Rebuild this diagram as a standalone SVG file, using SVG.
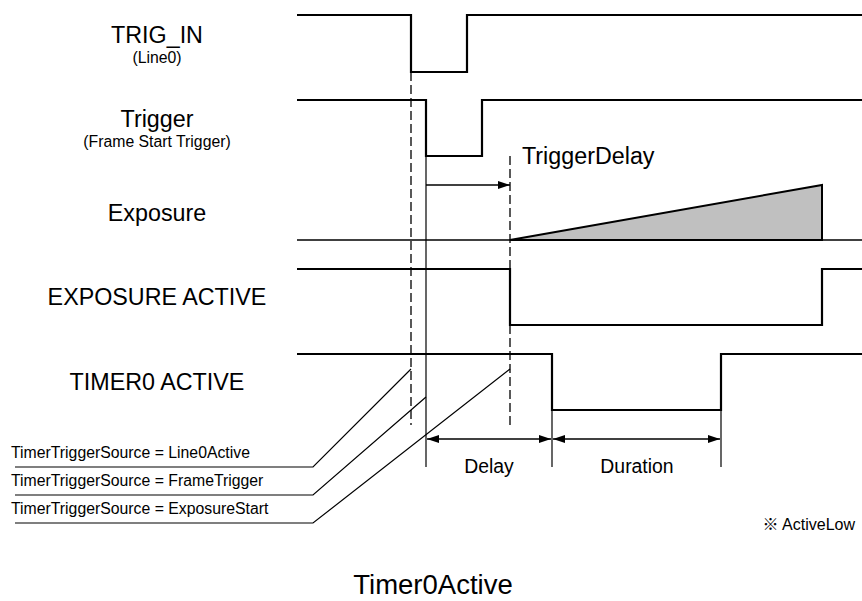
<svg xmlns="http://www.w3.org/2000/svg" width="862" height="601" viewBox="0 0 862 601">
<defs>
<marker id="ah" viewBox="0 0 12 8" refX="12" refY="4" markerWidth="12" markerHeight="8" markerUnits="userSpaceOnUse" orient="auto-start-reverse">
<path d="M0,0 L12,4 L0,8 Z" fill="#000"/>
</marker>
<style>
text{font-family:"Liberation Sans",Arial,"Noto Sans CJK JP",sans-serif;fill:#000}
.big{font-size:23.3px}
.sm{font-size:15.8px}
.sig{fill:none;stroke:#000;stroke-width:2.2}
.thin{fill:none;stroke:#000;stroke-width:1.2}
.dash{fill:none;stroke:#000;stroke-width:1.3;stroke-dasharray:9 4}
.arr{fill:none;stroke:#000;stroke-width:1.5}
</style>
</defs>
<rect width="862" height="601" fill="#fff"/>

<g id="label-trig-in">
<text class="big" x="157" y="43" text-anchor="middle">TRIG_IN</text>
<text class="sm" x="157" y="63" text-anchor="middle">(Line0)</text>
</g>
<g id="label-trigger">
<text class="big" x="157" y="127" text-anchor="middle">Trigger</text>
<text class="sm" x="157" y="147" text-anchor="middle">(Frame Start Trigger)</text>
</g>
<g id="label-exposure"><text class="big" x="157" y="221" text-anchor="middle">Exposure</text></g>
<g id="label-exposure-active"><text class="big" x="157" y="305" text-anchor="middle">EXPOSURE ACTIVE</text></g>
<g id="label-timer0-active"><text class="big" x="157" y="390" text-anchor="middle">TIMER0 ACTIVE</text></g>

<g id="sig-trig-in"><path class="sig" d="M297,15 H411 V72 H467 V15 H862"/></g>
<g id="sig-trigger"><path class="sig" d="M297,100 H426 V156 H482 V100 H862"/></g>
<g id="sig-exposure">
<line x1="297" y1="240" x2="862" y2="240" stroke="#000" stroke-width="1.5"/>
<path d="M510,240 L822,185 L822,240 Z" fill="#c0c0c0" stroke="#000" stroke-width="2"/>
</g>
<g id="sig-exposure-active"><path class="sig" d="M297,269 H510 V325 H822 V269 H862"/></g>
<g id="sig-timer0-active"><path class="sig" d="M297,354 H552 V410 H721 V354 H862"/></g>

<g id="connectors">
<line class="dash" x1="411" y1="72" x2="411" y2="425"/>
<line class="dash" x1="510" y1="156" x2="510" y2="425"/>
<line class="thin" x1="426" y1="156" x2="426" y2="467"/>
<line class="thin" x1="552" y1="410" x2="552" y2="467"/>
<line class="thin" x1="721" y1="410" x2="721" y2="467"/>
<line class="arr" x1="426" y1="185" x2="510" y2="185" marker-end="url(#ah)"/>
<line class="arr" x1="427" y1="439" x2="551" y2="439" marker-start="url(#ah)" marker-end="url(#ah)"/>
<line class="arr" x1="553" y1="439" x2="720" y2="439" marker-start="url(#ah)" marker-end="url(#ah)"/>
<path class="thin" d="M15,467 H313 L411,369"/>
<path class="thin" d="M15,495 H313 L426,397"/>
<path class="thin" d="M15,523 H313 L510,369"/>
</g>

<g id="label-trigger-delay"><text class="big" x="522" y="164">TriggerDelay</text></g>
<g id="label-delay"><text x="489" y="473" text-anchor="middle" font-size="19.4px">Delay</text></g>
<g id="label-duration"><text x="637" y="473" text-anchor="middle" font-size="19.4px">Duration</text></g>
<g id="label-sources">
<text class="sm" x="11" y="458">TimerTriggerSource = Line0Active</text>
<text class="sm" x="11" y="486">TimerTriggerSource = FrameTrigger</text>
<text class="sm" x="11" y="514">TimerTriggerSource = ExposureStart</text>
</g>
<g id="label-activelow"><text x="855" y="530" text-anchor="end" font-size="16px">※ ActiveLow</text></g>
<g id="title"><text x="433" y="594" text-anchor="middle" font-size="27.5px">Timer0Active</text></g>
</svg>
